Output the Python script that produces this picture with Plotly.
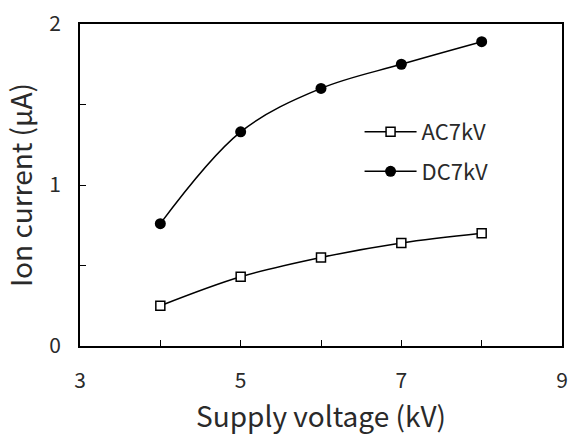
import plotly.graph_objects as go

voltage_kv = [4, 5, 6, 7, 8]
ac_current = [0.25, 0.43, 0.55, 0.64, 0.70]
dc_current = [0.76, 1.33, 1.60, 1.75, 1.89]

font_family = "Noto Sans CJK JP, Noto Sans, DejaVu Sans, sans-serif"
text_color = "#2a2a2a"

fig = go.Figure()
fig.add_trace(go.Scatter(
    x=voltage_kv, y=ac_current, name="AC7kV", legendgroup="ac",
    mode="lines+markers",
    line=dict(color="black", width=1.5, shape="spline"),
    marker=dict(symbol="square", size=9, color="white", line=dict(width=1.5, color="black")),
))
fig.add_trace(go.Scatter(
    x=voltage_kv, y=dc_current, name="DC7kV", legendgroup="dc",
    mode="lines+markers",
    line=dict(color="black", width=1.5, shape="spline"),
    marker=dict(symbol="circle", size=11, color="black"),
))

axis_common = dict(
    showline=True, linecolor="black", linewidth=2, mirror=True,
    ticks="inside", ticklen=6, tickcolor="black", tickwidth=1,
    showgrid=False, zeroline=False, automargin=False,
    tickfont=dict(family=font_family, size=21, color=text_color),
)

fig.update_xaxes(
    range=[3, 9], tickmode="array",
    tickvals=[3, 4, 5, 6, 7, 8, 9], ticktext=["3", "", "5", "", "7", "", "9"],
    ticklabelstandoff=15,
    title=dict(text="Supply voltage (kV)", font=dict(family=font_family, size=28, color=text_color), standoff=15),
    **axis_common,
)
fig.update_yaxes(
    range=[0, 2], tickmode="array",
    tickvals=[0, 0.5, 1, 1.5, 2], ticktext=["0", "", "1", "", "2"],
    ticklabelstandoff=13,
    title=dict(text="Ion current (μA)", font=dict(family=font_family, size=28, color=text_color), standoff=10),
    **axis_common,
)

fig.update_layout(
    width=570, height=435,
    margin=dict(l=80, r=8, t=24, b=89),
    paper_bgcolor="white", plot_bgcolor="white",
    legend=dict(
        x=0.58, y=0.73, xanchor="left", yanchor="top",
        bgcolor="rgba(0,0,0,0)", tracegroupgap=8, traceorder="grouped",
        font=dict(family=font_family, size=22, color=text_color),
        itemwidth=52,
    ),
)

fig.write_html("out.html")
